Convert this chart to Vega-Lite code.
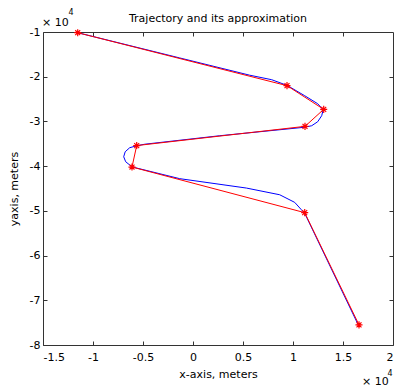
{
  "$schema": "https://vega.github.io/schema/vega-lite/v6.json",
  "width": 350,
  "height": 313,
  "autosize": {"type": "none"},
  "padding": {"left": 43, "top": 32, "right": 2, "bottom": 43},
  "title": {"text": "Trajectory and its approximation", "font": "DejaVu Sans", "fontSize": 11, "fontWeight": "normal", "color": "#000000", "offset": -15, "anchor": "middle", "frame": "group"},
  "config": {
    "view": {"stroke": "#333333", "strokeWidth": 1},
    "axis": {"grid": false, "domain": false, "labelFont": "DejaVu Sans", "titleFont": "DejaVu Sans", "labelFontSize": 11, "titleFontSize": 11, "titleFontWeight": "normal", "labelColor": "#000000", "titleColor": "#000000", "tickColor": "#333333", "tickSize": -4}
  },
  "datasets": {
    "blue": [
      {"i": 1, "x": -11530, "y": -10160},
      {"i": 2, "x": -1330, "y": -15800},
      {"i": 3, "x": 5670, "y": -19660},
      {"i": 4, "x": 7870, "y": -20670},
      {"i": 5, "x": 9420, "y": -21950},
      {"i": 6, "x": 11170, "y": -24250},
      {"i": 7, "x": 12470, "y": -26040},
      {"i": 8, "x": 13020, "y": -27380},
      {"i": 9, "x": 12870, "y": -28720},
      {"i": 10, "x": 12470, "y": -30070},
      {"i": 11, "x": 11870, "y": -30960},
      {"i": 12, "x": 11170, "y": -31300},
      {"i": 13, "x": 2670, "y": -33200},
      {"i": 14, "x": -4830, "y": -35100},
      {"i": 15, "x": -5630, "y": -35440},
      {"i": 16, "x": -6330, "y": -35880},
      {"i": 17, "x": -6780, "y": -36780},
      {"i": 18, "x": -6930, "y": -37900},
      {"i": 19, "x": -6730, "y": -39020},
      {"i": 20, "x": -6230, "y": -39920},
      {"i": 21, "x": -5730, "y": -40370},
      {"i": 22, "x": -1330, "y": -42800},
      {"i": 23, "x": 5340, "y": -44900},
      {"i": 24, "x": 8670, "y": -46400},
      {"i": 25, "x": 10170, "y": -48100},
      {"i": 26, "x": 10840, "y": -49750},
      {"i": 27, "x": 11170, "y": -50540},
      {"i": 28, "x": 16520, "y": -75480}
    ],
    "red": [
      {"i": 1, "x": -11530, "y": -10160},
      {"i": 2, "x": 9400, "y": -22000},
      {"i": 3, "x": 13070, "y": -27300},
      {"i": 4, "x": 11200, "y": -31100},
      {"i": 5, "x": -5630, "y": -35400},
      {"i": 6, "x": -6100, "y": -40200},
      {"i": 7, "x": 11170, "y": -50400},
      {"i": 8, "x": 16600, "y": -75500}
    ],
    "corner": [
      {"x": -15000, "y": -10000, "where": "topleft"},
      {"x": 20000, "y": -80000, "where": "bottomright"}
    ]
  },
  "layer": [
    {
      "data": {"name": "blue"},
      "mark": {"type": "line", "color": "#0000ff", "strokeWidth": 1},
      "encoding": {
        "x": {"field": "x", "type": "quantitative", "scale": {"domain": [-15000, 20000], "nice": false, "zero": false},
              "axis": {"orient": "bottom", "values": [-15000, -10000, -5000, 0, 5000, 10000, 15000, 20000], "labelExpr": "(datum.value / 10000) + ''", "title": "x-axis, meters", "labelPadding": 10, "titlePadding": 6}},
        "y": {"field": "y", "type": "quantitative", "scale": {"domain": [-80000, -10000], "nice": false, "zero": false},
              "axis": {"orient": "left", "values": [-80000, -70000, -60000, -50000, -40000, -30000, -20000, -10000], "labelExpr": "(datum.value / 10000) + ''", "title": "yaxis, meters", "labelPadding": 7, "titlePadding": 10}},
        "order": {"field": "i", "type": "quantitative"}
      }
    },
    {
      "data": {"name": "red"},
      "mark": {"type": "line", "color": "#ff0000", "strokeWidth": 1},
      "encoding": {
        "x": {"field": "x", "type": "quantitative", "axis": {"orient": "top", "values": [-10000, -5000, 0, 5000, 10000, 15000], "labels": false, "title": null}},
        "y": {"field": "y", "type": "quantitative", "axis": {"orient": "right", "values": [-70000, -60000, -50000, -40000, -30000, -20000], "labels": false, "title": null}},
        "order": {"field": "i", "type": "quantitative"}
      }
    },
    {
      "data": {"name": "red"},
      "mark": {"type": "point", "shape": "M-1,0L1,0M0,-1L0,1M-0.7,-0.7L0.7,0.7M-0.7,0.7L0.7,-0.7", "filled": false, "stroke": "#ff0000", "strokeWidth": 1.2, "size": 50, "opacity": 1},
      "encoding": {
        "x": {"field": "x", "type": "quantitative", "axis": null},
        "y": {"field": "y", "type": "quantitative", "axis": null}
      }
    },
    {
      "data": {"name": "corner"},
      "transform": [{"filter": "datum.where === 'topleft'"}],
      "mark": {"type": "text", "text": "× 10", "font": "DejaVu Sans", "fontSize": 11, "align": "left", "baseline": "middle", "dx": -1, "dy": -9, "color": "#000000"},
      "encoding": {
        "x": {"field": "x", "type": "quantitative", "axis": null},
        "y": {"field": "y", "type": "quantitative", "axis": null}
      }
    },
    {
      "data": {"name": "corner"},
      "transform": [{"filter": "datum.where === 'topleft'"}],
      "mark": {"type": "text", "text": "4", "font": "DejaVu Sans", "fontSize": 8, "align": "center", "baseline": "middle", "dx": 28, "dy": -19, "color": "#000000"},
      "encoding": {
        "x": {"field": "x", "type": "quantitative", "axis": null},
        "y": {"field": "y", "type": "quantitative", "axis": null}
      }
    },
    {
      "data": {"name": "corner"},
      "transform": [{"filter": "datum.where === 'bottomright'"}],
      "mark": {"type": "text", "text": "× 10", "font": "DejaVu Sans", "fontSize": 11, "align": "left", "baseline": "middle", "dx": -31, "dy": 37, "color": "#000000"},
      "encoding": {
        "x": {"field": "x", "type": "quantitative", "axis": null},
        "y": {"field": "y", "type": "quantitative", "axis": null}
      }
    },
    {
      "data": {"name": "corner"},
      "transform": [{"filter": "datum.where === 'bottomright'"}],
      "mark": {"type": "text", "text": "4", "font": "DejaVu Sans", "fontSize": 8, "align": "center", "baseline": "middle", "dx": -3, "dy": 29, "color": "#000000"},
      "encoding": {
        "x": {"field": "x", "type": "quantitative", "axis": null},
        "y": {"field": "y", "type": "quantitative", "axis": null}
      }
    }
  ]
}
